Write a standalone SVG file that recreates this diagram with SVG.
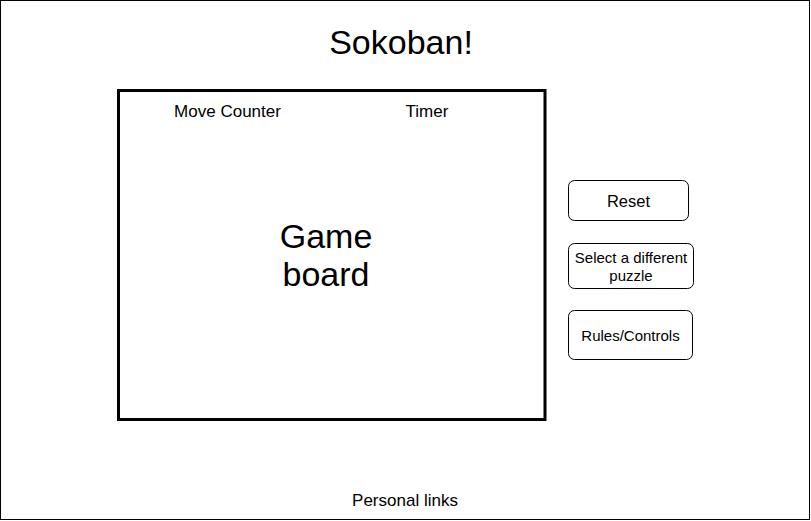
<svg xmlns="http://www.w3.org/2000/svg" width="811" height="521" viewBox="0 0 811 521">
  <style>
    text { font-family: "Liberation Sans", Arial, sans-serif; fill: #000; text-anchor: middle; }
    .btn { fill: #fff; stroke: #000; stroke-width: 1; }
  </style>
  <!-- page frame -->
  <rect x="0.5" y="0.5" width="809" height="519" fill="#fff" stroke="#000" stroke-width="1"/>

  <g id="title">
    <text x="401" y="54" font-size="34">Sokoban!</text>
  </g>

  <g id="game-board">
    <rect x="118.5" y="90.5" width="426.5" height="329" fill="#fff" stroke="#000" stroke-width="3"/>
    <text x="326" y="248" font-size="34">Game</text>
    <text x="326" y="286" font-size="34">board</text>
  </g>

  <g id="move-counter">
    <text x="227.5" y="117" font-size="17">Move Counter</text>
  </g>

  <g id="timer">
    <text x="427" y="117" font-size="17">Timer</text>
  </g>

  <g id="reset">
    <rect class="btn" x="568.5" y="180.5" width="120" height="40" rx="6"/>
    <text x="628.5" y="207" font-size="16.5">Reset</text>
  </g>

  <g id="select-puzzle">
    <rect class="btn" x="568.5" y="243.5" width="125" height="45" rx="6"/>
    <text x="631" y="263" font-size="15">Select a different</text>
    <text x="631" y="281" font-size="15">puzzle</text>
  </g>

  <g id="rules-controls">
    <rect class="btn" x="568.5" y="310.5" width="124" height="49" rx="6"/>
    <text x="630.5" y="341" font-size="15">Rules/Controls</text>
  </g>

  <g id="personal-links">
    <text x="405" y="506" font-size="17">Personal links</text>
  </g>

  <g id="connectors"/>
</svg>
